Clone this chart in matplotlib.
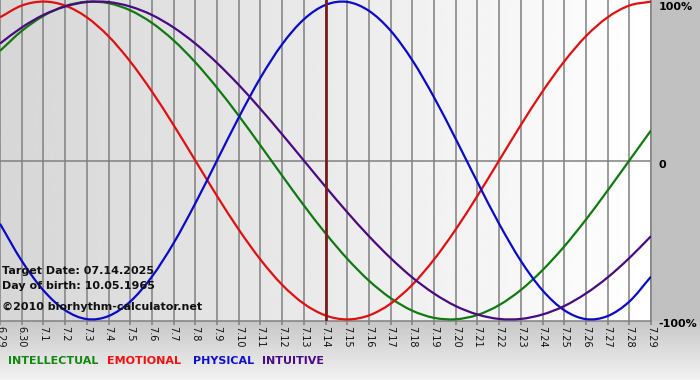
import matplotlib
matplotlib.use("Agg")
import matplotlib.pyplot as plt
from matplotlib.path import Path
from matplotlib.patches import PathPatch
import numpy as np

# days shown on the x axis (target date in the middle)
dates = ["6.29", "6.30", "7.1", "7.2", "7.3", "7.4", "7.5", "7.6", "7.7", "7.8",
         "7.9", "7.10", "7.11", "7.12", "7.13", "7.14", "7.15", "7.16", "7.17",
         "7.18", "7.19", "7.20", "7.21", "7.22", "7.23", "7.24", "7.25", "7.26",
         "7.27", "7.28", "7.29"]
target = "7.14"

# daily cycle values (-1 .. 1)
intellectual = [0.690, 0.815, 0.910, 0.972, 0.999, 0.990, 0.945, 0.866, 0.756, 0.618,
                0.458, 0.282, 0.095, -0.095, -0.282, -0.458, -0.618, -0.756, -0.866,
                -0.945, -0.990, -0.999, -0.972, -0.910, -0.815, -0.690, -0.541,
                -0.372, -0.189, 0.000, 0.189]
emotional = [0.901, 0.975, 1.000, 0.975, 0.901, 0.782, 0.623, 0.434, 0.223, 0.000,
             -0.223, -0.434, -0.623, -0.782, -0.901, -0.975, -1.000, -0.975, -0.901,
             -0.782, -0.623, -0.434, -0.223, 0.000, 0.223, 0.434, 0.623, 0.782,
             0.901, 0.975, 1.000]
physical = [-0.398, -0.631, -0.817, -0.942, -0.998, -0.979, -0.888, -0.731, -0.520,
            -0.270, 0.000, 0.270, 0.520, 0.731, 0.888, 0.979, 0.998, 0.942, 0.817,
            0.631, 0.398, 0.136, -0.136, -0.398, -0.631, -0.817, -0.942, -0.998,
            -0.979, -0.888, -0.731]
intuitive = [0.736, 0.837, 0.916, 0.969, 0.997, 0.997, 0.969, 0.916, 0.837, 0.736,
             0.614, 0.476, 0.325, 0.165, 0.000, -0.165, -0.325, -0.476, -0.614,
             -0.736, -0.837, -0.916, -0.969, -0.997, -0.997, -0.969, -0.916,
             -0.837, -0.736, -0.614, -0.476]

series = [("INTELLECTUAL", intellectual, "#107a10"),
          ("EMOTIONAL", emotional, "#e01010"),
          ("PHYSICAL", physical, "#0a0ac8"),
          ("INTUITIVE", intuitive, "#4a0a80")]
legend_colors = ["#118811", "#ee1111", "#1010cc", "#4b0a88"]
legend_x = [8, 107, 193, 262]   # px from left

info = ["Target Date: 07.14.2025", "Day of birth: 10.05.1965",
        "\u00a92010 biorhythm-calculator.net"]

W, H = 700, 380
PW, PH = 651, 321   # plot area in pixels (top-left anchored)


def smooth_path(xs, ys):
    # Catmull-Rom through the daily points, as cubic Bezier segments
    p = np.column_stack([xs, ys]).astype(float)
    ext = np.vstack([2 * p[0] - p[1], p, 2 * p[-1] - p[-2]])
    verts = [p[0]]
    codes = [Path.MOVETO]
    for i in range(len(p) - 1):
        a, b, c, d = ext[i], ext[i + 1], ext[i + 2], ext[i + 3]
        verts += [b + (c - a) / 6, c - (d - b) / 6, c]
        codes += [Path.CURVE4] * 3
    return Path(verts, codes)


fig = plt.figure(figsize=(W / 100, H / 100), dpi=100)

# figure background: grey band right of plot, vertical gradient below it
bg = fig.add_axes([0, 0, 1, 1], zorder=-5)
img = np.empty((H, W))
img[:, :] = 0.757
rows = np.arange(H)
below = rows >= PH
img[below, :] = (0.78 + 0.17 * (rows[below] - PH) / (H - PH))[:, None]
bg.imshow(img, cmap="gray", vmin=0, vmax=1, aspect="auto", extent=[0, W, H, 0])
bg.set_xlim(0, W); bg.set_ylim(H, 0); bg.axis("off")

ax = fig.add_axes([0, 1 - PH / H, PW / W, PH / H])
x = np.arange(len(dates))
ylo, yhi = -1.01, 1.01

# plot background: horizontal grey -> white gradient
ax.imshow(np.linspace(0.84, 1.0, 256)[None, :], cmap="gray", vmin=0, vmax=1,
          extent=[0, len(dates) - 1, ylo, yhi], aspect="auto", zorder=0)

ax.axhline(0, color="#808080", lw=1.1, zorder=1)
for name, vals, col in series:
    ax.add_patch(PathPatch(smooth_path(x, vals), fill=False, edgecolor=col,
                           lw=1.6, zorder=3))
ax.axvline(dates.index(target), color="#7a1c1c", lw=2, zorder=4)

ax.set_xlim(0, len(dates) - 1)
ax.set_ylim(ylo, yhi)
ax.set_xticks(x)
ax.set_xticklabels(dates)
ax.grid(axis="x", color="#808080", lw=1.1, zorder=1)
ax.set_axisbelow(False)
ax.tick_params(axis="x", length=3, color="#808080", width=1.1, pad=0.5,
               labelsize=7, labelrotation=-90, labelcolor="#111111")

ax.yaxis.tick_right()
ax.set_yticks([1, 0, -1])
ax.set_yticklabels(["100%", "0", "-100%"])
ax.tick_params(axis="y", length=0, pad=5.5, labelsize=8)
for t in ax.get_yticklabels():
    t.set_va("top")
    t.set_fontweight("bold")

for s in ("top", "left"):
    ax.spines[s].set_visible(False)
for s in ("bottom", "right"):
    ax.spines[s].set_color("#808080")
    ax.spines[s].set_linewidth(1.1)

# info block in lower left of plot
for ypx, txt in zip([271, 286, 307], info):
    fig.text(2 / W, 1 - ypx / H, txt, fontsize=8, fontweight="bold",
             va="center", ha="left", color="#111111", zorder=10)

# coloured legend words along the bottom
for (name, vals, col), lc, lx in zip(series, legend_colors, legend_x):
    fig.text(lx / W, 1 - 361 / H, name, fontsize=8, fontweight="bold",
             color=lc, va="center", ha="left")

fig.savefig("out.png", dpi=100)
